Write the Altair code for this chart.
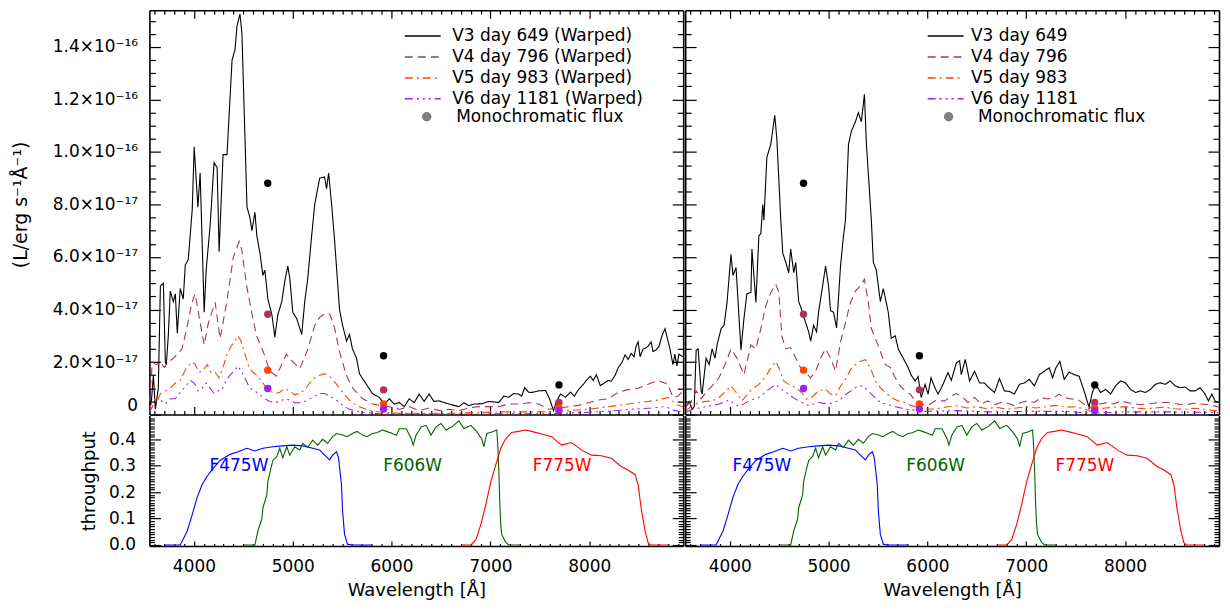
import altair as alt
import pandas as pd

FONT = "DejaVu Sans"

# ---------------- data (flux in units of 1e-17 erg s^-1 A^-1) ----------------
SERIES_L = ["V3 day 649 (Warped)", "V4 day 796 (Warped)", "V5 day 983 (Warped)", "V6 day 1181 (Warped)"]
SERIES_R = ["V3 day 649", "V4 day 796", "V5 day 983", "V6 day 1181"]
COLORS = ["#000000", "#b03060", "#ff4500", "#a020f0"]
DASHES = [[1, 0], [8, 5], [8, 4, 2, 4], [8, 4, 2, 4, 2, 4, 2, 4]]

V3_L = [(3550,0.3),(3570,0.5),(3590,1.5),(3610,0.2),(3640,1.0),(3661,4.9),(3691,5.0),(3711,2.0),(3721,1.9),
        (3741,3.0),(3761,4.7),(3792,4.3),(3812,4.6),(3832,3.1),(3862,4.8),(3892,4.4),(3913,5.7),(3943,5.9),
        (3983,7.8),(4003,10.2),(4040,7.9),(4063,9.2),(4104,3.9),(4124,5.5),(4164,7.2),(4204,9.6),(4235,9.4),
        (4255,6.2),(4295,9.9),(4335,9.9),(4386,13.5),(4416,13.9),(4436,14.8),(4466,15.25),(4486,14.5),
        (4537,7.9),(4567,7.5),(4587,7.0),(4617,7.7),(4637,6.8),(4668,6.15),(4698,5.3),(4718,5.5),(4748,4.4),
        (4789,3.8),(4819,2.95),(4849,3.8),(4889,4.3),(4920,5.1),(4950,5.65),(4970,5.2),(5000,3.9),(5040,3.65),
        (5091,3.05),(5121,4.3),(5151,5.15),(5191,6.8),(5222,8.0),(5272,9.0),(5322,9.05),(5342,8.6),(5363,9.2),
        (5393,8.0),(5423,6.65),(5473,4.0),(5504,3.4),(5544,2.8),(5574,3.05),(5604,2.5),(5645,2.15),(5675,1.55),
        (5745,1.15),(5806,0.8),(5876,0.65),(5926,0.4),(5977,0.6),(6027,0.4),(6078,0.46),(6128,0.3),(6178,0.6),
        (6228,0.45),(6279,0.78),(6329,0.5),(6379,0.78),(6429,0.5),(6480,0.52),(6581,0.4),(6681,0.3),(6732,0.45),
        (6782,0.34),(6832,0.4),(6913,0.41),(6983,0.5),(7084,0.46),(7134,0.7),(7185,0.66),(7235,0.8),(7285,0.78),
        (7316,0.7),(7346,1.03),(7386,0.85),(7416,0.84),(7487,0.9),(7557,0.92),(7598,0.6),(7638,0.15),(7668,0.5),
        (7708,0.78),(7759,0.66),(7809,0.85),(7849,0.7),(7890,0.95),(7940,1.15),(7970,1.3),(8010,1.46),(8040,1.3),
        (8071,1.52),(8111,1.1),(8151,1.2),(8191,1.3),(8222,1.27),(8262,1.5),(8292,1.78),(8332,2.0),(8362,2.27),
        (8393,2.1),(8423,2.33),(8453,2.2),(8473,2.6),(8494,2.77),(8514,2.2),(8544,2.5),(8564,2.52),(8594,2.6),
        (8625,2.77),(8645,2.4),(8675,2.46),(8705,2.6),(8735,3.0),(8766,3.27),(8796,2.8),(8816,2.5),(8846,1.9),
        (8866,2.3),(8886,1.85),(8906,2.3),(8946,2.2)]

V4_L = [(3550,0.5),(3580,2.0),(3620,1.9),(3661,2.0),(3700,1.8),(3741,2.0),(3795,2.15),(3879,2.5),(3929,3.3),
        (3980,4.27),(4013,4.6),(4063,3.5),(4104,2.65),(4147,3.5),(4215,4.27),(4265,2.9),(4332,4.27),(4399,6.0),
        (4459,6.6),(4483,6.3),(4534,4.9),(4584,3.9),(4634,3.0),(4701,2.4),(4768,1.65),(4836,1.46),(4886,1.9),
        (4937,2.3),(5003,2.0),(5071,1.75),(5154,2.5),(5222,3.4),(5272,3.7),(5322,3.84),(5373,3.84),(5423,3.3),
        (5473,2.4),(5541,1.5),(5607,1.0),(5708,0.6),(5809,0.4),(5876,0.35),(5977,0.3),(6078,0.2),(6178,0.3),
        (6279,0.15),(6379,0.25),(6480,0.15),(6581,0.2),(6681,0.15),(6782,0.25),(6883,0.3),(6983,0.3),(7084,0.3),
        (7185,0.4),(7285,0.4),(7386,0.45),(7487,0.4),(7588,0.2),(7688,0.25),(7789,0.3),(7890,0.35),(7990,0.45),
        (8091,0.55),(8191,0.6),(8292,0.85),(8393,0.95),(8494,1.0),(8594,1.15),(8695,1.3),(8796,1.15),(8846,0.65),
        (8896,0.7),(8946,0.9)]

V5_L = [(3550,0.2),(3590,0.6),(3631,0.5),(3661,0.8),(3711,0.9),(3761,1.0),(3812,1.2),(3862,1.3),(3913,1.7),
        (3953,1.9),(3983,2.0),(4013,1.9),(4053,1.6),(4094,1.7),(4134,1.9),(4174,1.6),(4215,1.6),(4255,1.4),
        (4295,1.8),(4335,2.3),(4376,2.6),(4416,2.8),(4446,3.0),(4476,2.8),(4517,2.3),(4557,1.8),(4597,1.6),
        (4637,1.5),(4678,1.3),(4718,1.1),(4768,0.9),(4819,0.8),(4869,0.85),(4920,1.0),(4970,0.9),(5020,0.75),
        (5071,0.8),(5121,0.95),(5171,1.2),(5222,1.4),(5272,1.5),(5322,1.55),(5373,1.45),(5423,1.25),(5473,1.0),
        (5524,0.75),(5574,0.55),(5625,0.4),(5675,0.3),(5775,0.15),(5876,0.1),(6078,0.05),(6581,0.05),(7084,0.1),
        (7588,0.1),(7789,0.15),(7990,0.2),(8091,0.25),(8292,0.35),(8494,0.45),(8695,0.55),(8796,0.65),(8846,0.5),
        (8896,0.35),(8946,0.3)]

V6_L = [(3550,0.1),(3610,0.5),(3661,0.55),(3711,0.4),(3761,0.6),(3812,0.6),(3862,0.85),(3923,1.1),(3963,1.3),
        (4003,1.2),(4043,0.9),(4084,1.0),(4124,1.2),(4164,1.0),(4204,0.8),(4245,0.9),(4285,0.95),(4325,1.3),
        (4366,1.5),(4406,1.65),(4446,1.85),(4486,1.6),(4527,1.3),(4567,1.0),(4617,0.9),(4668,0.75),(4718,0.6),
        (4768,0.5),(4819,0.45),(4869,0.5),(4920,0.6),(4970,0.55),(5020,0.45),(5071,0.45),(5121,0.5),(5171,0.6),
        (5222,0.7),(5272,0.8),(5322,0.8),(5373,0.7),(5423,0.6),(5473,0.45),(5524,0.3),(5574,0.2),(5675,0.1),
        (5876,0.03),(6581,0.02),(7588,0.03),(8091,0.1),(8423,0.2),(8625,0.25),(8766,0.3),(8866,0.15),(8946,0.1)]

V3_R = [(3560,0.3),(3590,0.5),(3620,0.2),(3641,0.3),(3661,2.46),(3681,2.5),(3711,0.9),(3721,0.78),(3761,2.15),
        (3792,1.9),(3822,2.5),(3852,2.15),(3872,2.65),(3913,3.27),(3943,3.4),(3973,4.27),(4013,6.1),(4033,5.3),
        (4064,5.6),(4114,2.46),(4144,3.65),(4174,4.6),(4215,4.65),(4225,6.3),(4265,4.27),(4295,6.8),(4315,6.9),
        (4335,8.0),(4346,7.4),(4376,9.8),(4416,10.3),(4456,11.4),(4477,10.5),(4517,7.4),(4537,6.15),(4567,5.8),
        (4597,5.4),(4617,6.3),(4648,5.4),(4668,5.8),(4698,4.3),(4728,4.0),(4768,3.5),(4799,3.15),(4819,2.8),
        (4849,3.4),(4879,3.15),(4899,3.9),(4930,4.65),(4970,5.65),(5000,4.9),(5020,3.96),(5050,3.9),(5081,3.3),
        (5121,5.65),(5151,6.8),(5171,7.4),(5202,10.3),(5232,10.8),(5272,11.15),(5302,11.5),(5332,11.15),
        (5363,12.2),(5383,10.3),(5433,7.4),(5453,5.8),(5483,5.5),(5524,4.3),(5554,4.8),(5604,3.9),(5634,2.9),
        (5675,3.0),(5705,2.5),(5755,2.15),(5806,1.78),(5836,1.5),(5876,1.28),(5906,1.45),(5937,0.65),(5977,1.15),
        (6007,0.78),(6037,1.4),(6078,1.0),(6108,0.78),(6158,1.15),(6208,1.6),(6242,1.3),(6292,1.96),(6326,2.05),
        (6343,1.52),(6383,2.1),(6427,1.28),(6477,1.65),(6528,1.2),(6578,1.2),(6628,1.0),(6679,0.84),(6729,1.37),
        (6779,0.9),(6830,0.88),(6880,0.78),(6930,1.15),(6981,1.2),(7031,1.34),(7082,1.09),(7132,1.52),(7182,1.65),
        (7233,1.78),(7266,1.4),(7300,1.78),(7340,2.02),(7384,1.34),(7434,1.62),(7484,1.52),(7535,1.46),(7585,0.9),
        (7635,0.28),(7669,0.84),(7702,1.15),(7752,0.84),(7803,0.96),(7853,0.78),(7903,1.09),(7954,1.28),(8004,1.21),
        (8054,0.96),(8105,0.84),(8155,0.9),(8205,0.84),(8256,0.96),(8306,1.15),(8356,1.21),(8407,1.15),(8457,1.28),
        (8507,1.09),(8558,1.02),(8608,1.05),(8658,0.9),(8709,0.9),(8759,1.02),(8809,0.78),(8843,0.52),(8877,0.78),
        (8910,0.52),(8944,0.46)]

V4_R = [(3560,0.34),(3610,0.5),(3661,0.9),(3711,0.6),(3761,0.85),(3822,1.09),(3892,1.4),(3963,2.0),(4013,2.5),
        (4074,2.15),(4144,1.52),(4215,2.65),(4265,2.5),(4315,3.27),(4366,4.15),(4416,4.65),(4466,4.96),(4497,4.65),
        (4527,3.0),(4567,2.5),(4617,2.55),(4668,2.15),(4718,1.78),(4768,1.6),(4819,1.4),(4869,1.65),(4920,2.15),
        (4970,2.5),(5020,2.15),(5071,1.65),(5121,2.77),(5171,3.5),(5222,4.27),(5272,4.7),(5322,4.9),(5363,5.15),
        (5403,4.27),(5433,3.27),(5473,2.9),(5524,2.4),(5574,1.9),(5624,1.8),(5675,1.4),(5725,1.09),(5775,0.9),
        (5826,0.78),(5876,0.52),(5926,0.46),(5977,0.34),(6027,0.4),(6078,0.52),(6175,0.52),(6242,0.71),(6292,0.8),
        (6359,0.65),(6410,0.46),(6477,0.65),(6544,0.4),(6611,0.52),(6679,0.38),(6745,0.46),(6813,0.43),(6880,0.34),
        (6947,0.46),(7014,0.52),(7082,0.46),(7148,0.65),(7215,0.59),(7283,0.65),(7333,0.78),(7384,0.65),(7450,0.59),
        (7518,0.59),(7585,0.4),(7635,0.21),(7686,0.4),(7752,0.4),(7820,0.46),(7887,0.4),(7954,0.52),(8021,0.46),
        (8088,0.4),(8155,0.38),(8222,0.4),(8290,0.43),(8357,0.46),(8424,0.46),(8491,0.43),(8558,0.38),(8625,0.38),
        (8693,0.43),(8759,0.4),(8827,0.38),(8894,0.34),(8944,0.28)]

V5_R = [(3560,0.15),(3620,0.34),(3691,0.46),(3761,0.5),(3822,0.52),(3892,0.65),(3963,0.9),(4013,1.09),(4064,0.85),
        (4124,0.52),(4195,0.85),(4245,1.02),(4295,1.15),(4366,1.46),(4416,1.78),(4466,2.02),(4497,1.78),(4547,1.28),
        (4597,1.15),(4668,1.02),(4728,0.84),(4779,0.59),(4829,0.65),(4899,0.9),(4970,0.96),(5020,0.78),(5071,0.71),
        (5121,1.09),(5171,1.34),(5222,1.71),(5272,1.9),(5322,2.02),(5373,2.09),(5423,1.78),(5473,1.28),(5524,1.02),
        (5574,0.84),(5634,0.65),(5705,0.52),(5775,0.46),(5836,0.34),(5906,0.28),(5977,0.21),(6078,0.21),(6178,0.28),
        (6289,0.34),(6400,0.25),(6500,0.3),(6600,0.22),(6700,0.28),(6800,0.2),(6900,0.25),(7000,0.3),(7100,0.25),
        (7200,0.3),(7300,0.35),(7400,0.28),(7500,0.3),(7600,0.2),(7650,0.12),(7700,0.2),(7800,0.25),(7900,0.28),
        (8000,0.3),(8100,0.25),(8200,0.22),(8300,0.25),(8400,0.28),(8500,0.22),(8600,0.2),(8700,0.24),(8800,0.2),
        (8900,0.15),(8944,0.15)]

V6_R = [(3560,0.09),(3620,0.2),(3761,0.3),(3892,0.4),(3993,0.55),(4094,0.3),(4195,0.52),(4295,0.65),(4396,0.96),
        (4466,1.15),(4527,0.96),(4617,0.71),(4698,0.52),(4799,0.34),(4899,0.46),(5000,0.4),(5101,0.52),(5202,0.84),
        (5302,1.09),(5352,1.09),(5433,0.78),(5524,0.46),(5634,0.34),(5775,0.21),(5977,0.12),(6289,0.15),(6600,0.1),
        (7000,0.12),(7400,0.12),(7650,0.05),(8000,0.1),(8500,0.1),(8944,0.08)]

# monochromatic flux at the filter pivot wavelengths
MONO_WL = [4747, 5919, 7693]
MONO_FLUX = [[8.81, 2.24, 1.13], [3.82, 0.94, 0.46], [1.69, 0.40, 0.25], [0.99, 0.21, 0.15]]

# filter throughputs
F475W = [(3700,0),(3862,0),(3933,0.053),(3983,0.115),(4033,0.18),(4084,0.23),(4134,0.26),(4184,0.285),(4265,0.32),
         (4366,0.343),(4446,0.353),(4537,0.366),(4617,0.356),(4698,0.366),(4799,0.372),(4899,0.375),(5000,0.378),
         (5101,0.375),(5202,0.366),(5272,0.36),(5322,0.34),(5373,0.322),(5403,0.34),(5443,0.353),(5463,0.33),
         (5493,0.228),(5504,0.128),(5524,0.04),(5554,0.003),(5594,0),(5800,0)]
F606W = [(4500,0),(4617,0),(4648,0.053),(4688,0.1),(4698,0.14),(4738,0.19),(4748,0.24),(4779,0.29),(4799,0.32),
         (4839,0.335),(4869,0.366),(4899,0.33),(4940,0.372),(4970,0.34),(5020,0.372),(5071,0.36),(5101,0.385),
         (5151,0.37),(5202,0.397),(5252,0.378),(5302,0.4),(5352,0.385),(5403,0.41),(5443,0.422),(5504,0.416),
         (5550,0.41),(5604,0.422),(5650,0.43),(5705,0.416),(5750,0.41),(5806,0.422),(5850,0.425),(5906,0.435),
         (5950,0.43),(6007,0.422),(6050,0.415),(6078,0.44),(6148,0.44),(6198,0.403),(6218,0.378),(6248,0.416),
         (6299,0.447),(6349,0.453),(6399,0.416),(6449,0.447),(6500,0.46),(6550,0.435),(6610,0.447),(6681,0.47),
         (6732,0.441),(6802,0.453),(6863,0.428),(6913,0.4),(6933,0.372),(6963,0.422),(7014,0.428),(7064,0.435),
         (7074,0.378),(7084,0.29),(7094,0.165),(7104,0.078),(7114,0.04),(7155,0.01),(7185,0),(7300,0)]
F775W = [(6700,0),(6802,0),(6853,0.02),(6903,0.078),(6953,0.153),(7004,0.24),(7054,0.303),(7104,0.366),(7155,0.403),
         (7215,0.426),(7285,0.43),(7356,0.435),(7416,0.43),(7517,0.42),(7618,0.41),(7719,0.378),(7819,0.388),
         (7920,0.36),(8020,0.34),(8121,0.338),(8222,0.328),(8322,0.297),(8393,0.284),(8463,0.266),(8494,0.228),
         (8524,0.14),(8564,0.053),(8594,0.009),(8625,0),(8800,0)]
FILTER_NAMES = ["F475W", "F606W", "F775W"]
FILTER_COLORS = ["#0000ff", "#006400", "#ff0000"]
FILTER_LABEL_WL_L = [4456, 6213, 7724]
FILTER_LABEL_WL_R = [4325, 6083, 7593]
FILTER_LABEL_T = 0.30

# tick positions (major / minor)
X_MAJ = list(range(4000, 8001, 1000))
X_MIN = [v for v in range(3600, 8901, 100) if v % 1000 != 0]
YT_MAJ = [float(v) for v in range(0, 15, 2)]
YT_MIN = [i * 0.5 for i in range(31) if (i * 0.5) % 2 != 0]
YB_MAJ = [0.0, 0.1, 0.2, 0.3, 0.4]
YB_MIN = [round(i * 0.01, 2) for i in range(49) if i % 10 != 0]

# ---------------- helpers ----------------
W = 536
H_TOP = 406
H_BOT = 131
XSC = alt.Scale(domain=[3550, 8950], nice=False, zero=False)
YSC_TOP = alt.Scale(domain=[0, 15.4], nice=False, zero=False)
YSC_BOT = alt.Scale(domain=[-0.004, 0.49], nice=False, zero=False)

BASE_AX = dict(grid=False, domainColor="black", domainWidth=1.6, tickColor="black", tickWidth=1.2,
               labelFont=FONT, labelFontSize=17, labelColor="black", labelOverlap=False,
               titleFont=FONT, titleFontSize=18, titleFontWeight="normal", titleColor="black")

YT_LABEL = ("datum.value === 0 ? '0' : (datum.value < 10 ? format(datum.value, '.1f') + '×10⁻¹⁷' "
            ": format(datum.value / 10, '.1f') + '×10⁻¹⁶')")


def main_axis(orient, values, label_expr=None, gap=0, title=None, title_pad=None, flush=False,
              title_y=None, title_size=None):
    kw = dict(BASE_AX)
    kw.update(orient=orient, values=values, ticks=False, domain=True, title=title,
              labels=label_expr is not None)
    if label_expr is not None:
        kw.update(labelExpr=label_expr, labelPadding=gap)
        if flush:
            kw["labelFlush"] = True
    if title_pad is not None:
        kw["titlePadding"] = title_pad
    if title_y is not None:
        kw["titleY"] = title_y
    if title_size is not None:
        kw["titleFontSize"] = title_size
    return alt.Axis(**kw)


def tick_axis(orient, values, size):
    kw = dict(BASE_AX)
    kw.update(orient=orient, values=values, ticks=True, tickSize=size, offset=-size,
              domain=False, labels=False, title=None)
    return alt.Axis(**kw)


def carrier(df, yfield, yscale, xaxis, yaxis):
    x = alt.X("wl:Q", scale=XSC, axis=xaxis) if xaxis is not None else alt.X("wl:Q", scale=XSC, axis=None)
    return alt.Chart(df).mark_point(opacity=0).encode(
        x=x, y=alt.Y(f"{yfield}:Q", scale=yscale, axis=yaxis))


def line_legend(lx, loff):
    return alt.Legend(orient="none", legendX=lx, legendY=17.5, title=None, symbolType="M-3,0H3",
                      symbolSize=144, symbolStrokeWidth=1.5, labelFont=FONT, labelFontSize=17,
                      labelColor="black", labelOffset=loff, labelLimit=400, rowPadding=3, padding=0)


def point_legend(lx, loff):
    return alt.Legend(orient="none", legendX=lx, legendY=98.5, title=None, symbolType="circle",
                      symbolSize=64, symbolFillColor="#808080", symbolStrokeColor="#808080",
                      labelFont=FONT, labelFontSize=17, labelColor="black", labelOffset=loff,
                      labelLimit=400, padding=0)


def top_panel(names, lists, lx, loff, px, ploff, left):
    df = pd.DataFrame([{"series": n, "wl": w, "flux": f}
                       for n, pts in zip(names, lists) for w, f in pts])
    mdf = pd.DataFrame([{"series": n, "wl": w, "flux": f, "kind": "Monochromatic flux"}
                        for n, vals in zip(names, MONO_FLUX) for w, f in zip(MONO_WL, vals)])
    color = alt.Color("series:N", scale=alt.Scale(domain=names, range=COLORS), legend=line_legend(lx, loff))
    dash = alt.StrokeDash("series:N", scale=alt.Scale(domain=names, range=DASHES),
                          legend=line_legend(lx, loff))
    x = alt.X("wl:Q", scale=XSC, axis=None)
    y = alt.Y("flux:Q", scale=YSC_TOP, axis=None)
    lines = alt.Chart(df).mark_line(strokeWidth=1.1, clip=True).encode(x=x, y=y, color=color, strokeDash=dash)
    pts = alt.Chart(mdf).mark_point(filled=True, size=55, opacity=1).encode(
        x=x, y=y, color=color,
        shape=alt.Shape("kind:N", scale=alt.Scale(domain=["Monochromatic flux"], range=["circle"]),
                        legend=point_legend(px, ploff)))
    if left:
        yl = main_axis("left", YT_MAJ, label_expr=YT_LABEL, gap=12, title="(L/erg s⁻¹Å⁻¹)",
                       title_pad=22, flush=True, title_y=195, title_size=19)
    else:
        yl = main_axis("left", YT_MAJ)
    layers = [lines, pts,
              carrier(mdf, "flux", YSC_TOP, main_axis("bottom", X_MAJ), yl),
              carrier(mdf, "flux", YSC_TOP, tick_axis("bottom", X_MAJ, 8), tick_axis("left", YT_MAJ, 11)),
              carrier(mdf, "flux", YSC_TOP, tick_axis("bottom", X_MIN, 4), tick_axis("left", YT_MIN, 6)),
              carrier(mdf, "flux", YSC_TOP, main_axis("top", X_MAJ), main_axis("right", YT_MAJ)),
              carrier(mdf, "flux", YSC_TOP, tick_axis("top", X_MAJ, 8), tick_axis("right", YT_MAJ, 11)),
              carrier(mdf, "flux", YSC_TOP, tick_axis("top", X_MIN, 4), tick_axis("right", YT_MIN, 6))]
    return alt.layer(*layers).resolve_axis(x="independent", y="independent").properties(
        width=W, height=H_TOP)


def bottom_panel(label_wls, left):
    x = alt.X("wl:Q", scale=XSC, axis=None)
    y = alt.Y("t:Q", scale=YSC_BOT, axis=None)
    layers = []
    for name, pts, col in zip(FILTER_NAMES, [F475W, F606W, F775W], FILTER_COLORS):
        fdf = pd.DataFrame([{"wl": w, "t": t} for w, t in pts])
        layers.append(alt.Chart(fdf).mark_line(color=col, strokeWidth=1.1, clip=True).encode(x=x, y=y))
    for name, wl, col in zip(FILTER_NAMES, label_wls, FILTER_COLORS):
        ldf = pd.DataFrame([{"wl": wl, "t": FILTER_LABEL_T, "name": name}])
        layers.append(alt.Chart(ldf).mark_text(color=col, font=FONT, fontSize=17, align="center",
                                                baseline="middle").encode(x=x, y=y, text="name:N"))
    cdf = pd.DataFrame([{"wl": w, "t": t} for w, t in F475W])
    xb = main_axis("bottom", X_MAJ, label_expr="format(datum.value, 'd')", gap=13,
                   title="Wavelength [Å]", title_pad=7)
    if left:
        yl = main_axis("left", YB_MAJ, label_expr="format(datum.value, '.1f')", gap=14,
                       title="throughput", title_pad=10)
    else:
        yl = main_axis("left", YB_MAJ)
    layers += [carrier(cdf, "t", YSC_BOT, xb, yl),
               carrier(cdf, "t", YSC_BOT, tick_axis("bottom", X_MAJ, 5), tick_axis("left", YB_MAJ, 11)),
               carrier(cdf, "t", YSC_BOT, tick_axis("bottom", X_MIN, 2.5), tick_axis("left", YB_MIN, 5)),
               carrier(cdf, "t", YSC_BOT, None, main_axis("right", YB_MAJ)),
               carrier(cdf, "t", YSC_BOT, None, tick_axis("right", YB_MAJ, 11)),
               carrier(cdf, "t", YSC_BOT, None, tick_axis("right", YB_MIN, 5))]
    return alt.layer(*layers).resolve_axis(x="independent", y="independent").properties(
        width=W, height=H_BOT)


left_col = alt.vconcat(top_panel(SERIES_L, [V3_L, V4_L, V5_L, V6_L], 266, 21, 270, 21, True),
                       bottom_panel(FILTER_LABEL_WL_L, True), spacing=0).resolve_scale(
    color="independent", strokeDash="independent", shape="independent")
right_col = alt.vconcat(top_panel(SERIES_R, [V3_R, V4_R, V5_R, V6_R], 253, 17, 256, 21, False),
                        bottom_panel(FILTER_LABEL_WL_R, False), spacing=0).resolve_scale(
    color="independent", strokeDash="independent", shape="independent")

chart = alt.hconcat(left_col, right_col, spacing=0).resolve_scale(
    color="independent", strokeDash="independent", shape="independent").properties(
    padding={"left": 3, "top": 0, "right": 2, "bottom": 0}, background="white").configure_view(stroke=None)

chart.save("out.html", embed_options={"renderer": "svg", "actions": False})
